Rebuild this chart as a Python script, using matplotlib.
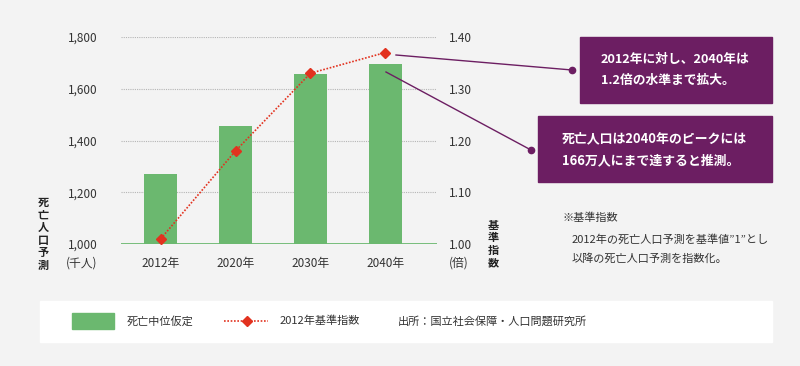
import matplotlib
matplotlib.use('Agg')
import matplotlib.pyplot as plt
from matplotlib.patches import Rectangle

plt.rcParams['font.family'] = ['Noto Sans CJK JP', 'DejaVu Sans']

# data
years = ["2012年", "2020年", "2030年", "2040年"]
deaths = [1270, 1455, 1657, 1695]        # 千人
index_2012 = [1.01, 1.18, 1.33, 1.37]    # 2012年基準指数

left_ticks = [1000, 1200, 1400, 1600, 1800]
left_labels = ["1,000", "1,200", "1,400", "1,600", "1,800"]
right_ticks = [1.00, 1.10, 1.20, 1.30, 1.40]
right_labels = ["1.00", "1.10", "1.20", "1.30", "1.40"]

BG = '#f3f3f3'
GREEN = '#6bb86f'
RED = '#e2321f'
PURPLE = '#6c1e62'
TXT = '#333333'

fig = plt.figure(figsize=(8, 3.66), dpi=100, facecolor=BG)
W, H = 800, 366

def fx(px):
    return px / W

def fy(py):
    return 1 - py / H

def rect(x0, y0, x1, y1, color, z=1):
    fig.patches.append(Rectangle((fx(x0), fy(y1)), fx(x1) - fx(x0), fy(y0) - fy(y1),
                                 transform=fig.transFigure, color=color, zorder=z))

def fline(xs, ys, **kw):
    fig.add_artist(plt.Line2D([fx(v) for v in xs], [fy(v) for v in ys],
                              transform=fig.transFigure, **kw))

ax = fig.add_axes([fx(121), fy(244), fx(437) - fx(121), fy(37) - fy(244)])
ax.set_facecolor('none')
x = list(range(len(years)))
ax.bar(x, deaths, width=0.44, color=GREEN, zorder=2)
ax.set_xlim(-0.53, 3.69)
ax.set_ylim(1000, 1800)
for t in left_ticks[1:]:
    ax.axhline(t, color='#b5b5b5', lw=0.8, ls=(0, (1, 1)), zorder=1)
ax.axhline(1000, color=GREEN, lw=2, zorder=3)
for s in ax.spines.values():
    s.set_visible(False)
ax.set_xticks(x)
ax.set_xticklabels(years, fontsize=8.5, color=TXT)
ax.set_yticks(left_ticks)
ax.set_yticklabels(left_labels, fontsize=8.5, color=TXT)
ax.tick_params(length=0, pad=9)
ax.tick_params(axis='y', pad=17)

ax2 = ax.twinx()
ax2.set_ylim(1.0, 1.4)
ax2.plot(x, index_2012, color=RED, lw=1.2, ls=(0, (1, 1)), marker='D',
         markersize=5, zorder=4)
for s in ax2.spines.values():
    s.set_visible(False)
ax2.set_yticks(right_ticks)
ax2.set_yticklabels(right_labels, fontsize=8.5, color=TXT)
ax2.tick_params(length=0, pad=8.5)

# axis titles (vertical stacked)
fig.text(fx(97), fy(263), "(千人)", ha='right', va='center', fontsize=8.5, color=TXT)
fig.text(fx(449), fy(263), "(倍)", ha='left', va='center', fontsize=8.5, color=TXT)
fig.text(fx(43), fy(234), "\n".join("死亡人口予測"), ha='center', va='center',
         fontsize=8, fontweight='bold', color='#222222', linespacing=0.95)
fig.text(fx(493), fy(244), "\n".join("基準指数"), ha='center', va='center',
         fontsize=8, fontweight='bold', color='#222222', linespacing=0.95)

# callout boxes
rect(580, 37, 772, 103, PURPLE)
rect(538, 116, 772, 182, PURPLE)
fig.text(fx(601), fy(70), "2012年に対し、2040年は\n1.2倍の水準まで拡大。", ha='left',
         va='center', fontsize=9.2, fontweight='bold', color='white', linespacing=1.75)
fig.text(fx(562), fy(149), "死亡人口は2040年のピークには\n166万人にまで達すると推測。", ha='left',
         va='center', fontsize=9.3, fontweight='bold', color='white', linespacing=1.75)

# connector lines
fline([396, 572], [55, 70], color=PURPLE, lw=1)
fline([386, 531], [72, 150], color=PURPLE, lw=1)
fline([572], [70], color=PURPLE, marker='o', markersize=4.5)
fline([531], [150], color=PURPLE, marker='o', markersize=4.5)

# note
fig.text(fx(562), fy(218), "※基準指数", ha='left', va='center', fontsize=8, color=TXT)
fig.text(fx(572), fy(240), "2012年の死亡人口予測を基準値\u201d1\u201dとし", ha='left',
         va='center', fontsize=8, color=TXT)
fig.text(fx(572), fy(259), "以降の死亡人口予測を指数化。", ha='left', va='center',
         fontsize=8, color=TXT)

# legend box
rect(40, 301, 772, 342, 'white', z=0)
rect(72, 313, 114, 329, GREEN)
fig.text(fx(127), fy(321), "死亡中位仮定", ha='left', va='center', fontsize=8, color=TXT)
fline([224, 268], [321, 321], color=RED, lw=1.2, ls=(0, (1, 1)))
fline([247], [321], color=RED, marker='D', markersize=5)
fig.text(fx(280), fy(321), "2012年基準指数", ha='left', va='center', fontsize=8, color=TXT)
fig.text(fx(398), fy(321), "出所：国立社会保障・人口問題研究所", ha='left', va='center',
         fontsize=8, color=TXT)

fig.savefig("out.png", dpi=100, facecolor=BG)
